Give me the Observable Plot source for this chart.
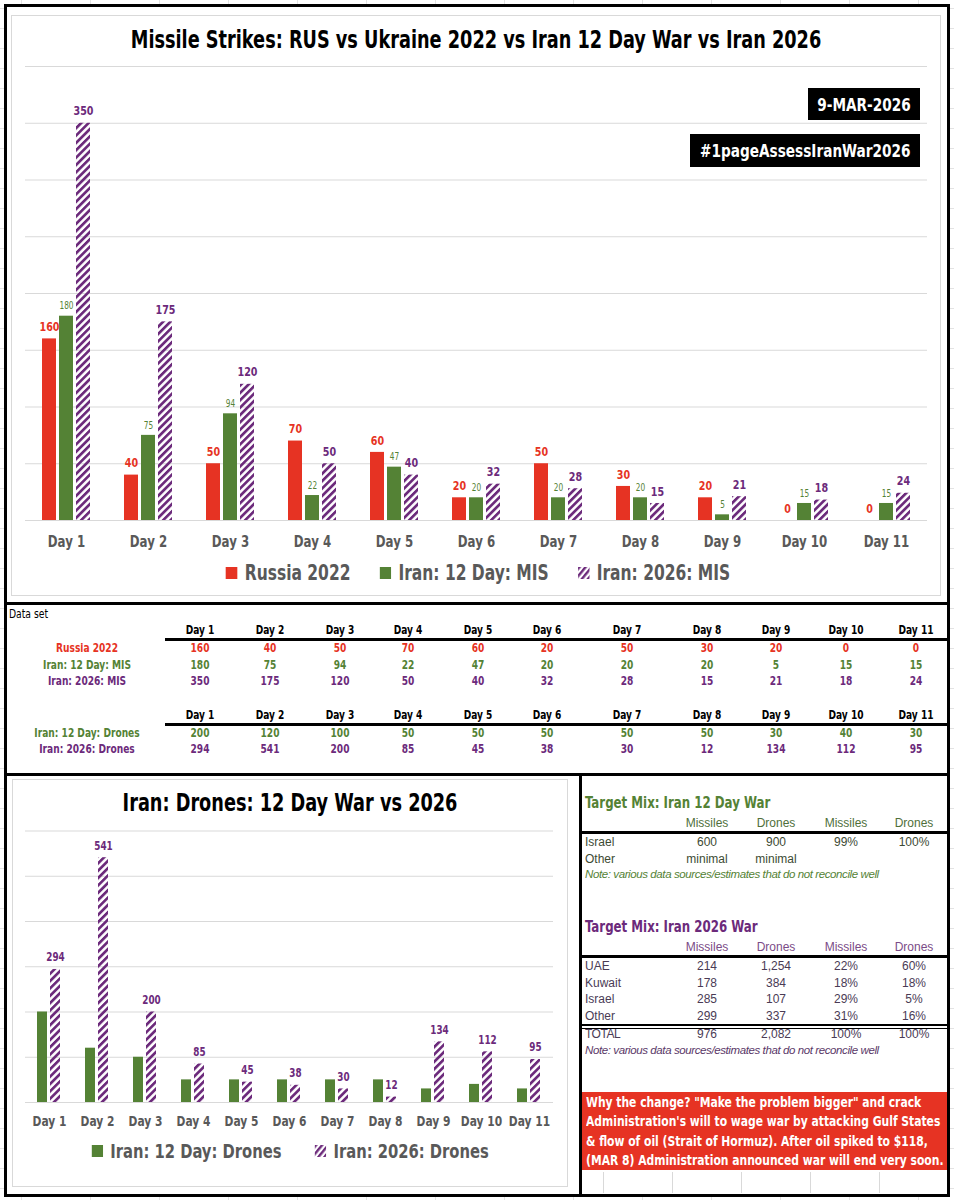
<!DOCTYPE html>
<html><head><meta charset="utf-8">
<script src="https://cdn.jsdelivr.net/npm/d3@7"></script>
<script src="https://cdn.jsdelivr.net/npm/@observablehq/plot@0.6"></script>
<style>
html,body{margin:0;padding:0;}
body{width:954px;height:1200px;position:relative;overflow:hidden;background-color:#fff;
  background-image:linear-gradient(#e3e3e3 1px,transparent 1px),linear-gradient(90deg,#e3e3e3 1px,transparent 1px);
  background-size:69px 20px;background-position:21px 8px;
  font-family:"Liberation Sans Narrow","Arial Narrow","DejaVu Sans Condensed","Liberation Sans",sans-serif;}
.abs{position:absolute;}
.panel{position:absolute;background:#fff;border:1px solid #d9d9d9;box-sizing:border-box;}
.legend{position:absolute;display:flex;justify-content:center;align-items:center;font-weight:bold;color:#595959;transform-origin:50% 50%;}
.legend .item{display:flex;align-items:center;}
.badge{position:absolute;background:#000;color:#fff;font-weight:bold;font-size:18.5px;display:flex;align-items:center;justify-content:center;}
.badge span{display:inline-block;white-space:nowrap;}
</style></head><body>
<svg width="0" height="0" style="position:absolute">
  <defs>
    <pattern id="hatch" patternUnits="userSpaceOnUse" width="5.2" height="5.2" patternTransform="rotate(45)">
      <rect x="0" y="0" width="2.7" height="5.2" fill="#6C2A7B"></rect>
    </pattern>
  </defs>
</svg>
<div class="abs" style="left:4px;top:4px;width:946px;height:1193px;background:#fff;"></div>
<div id="strip" class="abs" style="left:582px;top:1172px;width:365px;height:21px;
  background-image:linear-gradient(90deg,#d9d9d9 1px,transparent 1px);background-size:69px 100%;background-position:21px 0;"></div>
<div class="panel" style="left:11px;top:15px;width:930px;height:581px;"></div>
<div class="panel" style="left:12px;top:779px;width:556px;height:408px;"></div>
<div id="layer" class="abs" style="left:0;top:0;width:954px;height:1200px;"></div>
<!-- frame lines -->
<div class="abs" style="left:4px;top:4px;width:940px;height:1187px;border:3px solid #000;"></div>
<div class="abs" style="left:4px;top:602px;width:946px;height:3px;background:#000;"></div>
<div class="abs" style="left:4px;top:773px;width:946px;height:3px;background:#000;"></div>
<div class="abs" style="left:579px;top:773px;width:3px;height:424px;background:#000;"></div>
<script>
// ---------- data ----------
const days = ["Day 1","Day 2","Day 3","Day 4","Day 5","Day 6","Day 7","Day 8","Day 9","Day 10","Day 11"];
const misSeries = ["Russia 2022","Iran: 12 Day: MIS","Iran: 2026: MIS"];
const russia2022 = [160,40,50,70,60,20,50,30,20,0,0];
const iran12Mis = [180,75,94,22,47,20,20,20,5,15,15];
const iran2026Mis = [350,175,120,50,40,32,28,15,21,18,24];
const droneSeries = ["Iran: 12 Day: Drones","Iran: 2026: Drones"];
const iran12Drones = [200,120,100,50,50,50,50,50,30,40,30];
const iran2026Drones = [294,541,200,85,45,38,30,12,134,112,95];
const misTicks = [0,50,100,150,200,250,300,350,400];
const droneTicks = [0,100,200,300,400,500,600];
const topTitle = "Missile Strikes: RUS vs Ukraine 2022 vs Iran 12 Day War vs Iran 2026";
const droneTitle = "Iran: Drones: 12 Day War vs 2026";
const badgeDate = "9-MAR-2026";
const badgeTag = "#1pageAssessIranWar2026";
const mixCols = ["Missiles","Drones","Missiles","Drones"];
const mix12Title = "Target Mix: Iran 12 Day War";
const mix12Rows = [["Israel","600","900","99%","100%"],["Other","minimal","minimal","",""]];
const mix26Title = "Target Mix: Iran 2026 War";
const mix26Rows = [["UAE","214","1,254","22%","60%"],["Kuwait","178","384","18%","18%"],["Israel","285","107","29%","5%"],["Other","299","337","31%","16%"]];
const mix26Total = ["TOTAL","976","2,082","100%","100%"];
const noteText = "Note: various data sources/estimates that do not reconcile well";
const whyText = ["Why the change? \"Make the problem bigger\" and crack",
  "Administration's will to wage war by attacking Gulf States",
  "& flow of oil (Strait of Hormuz). After oil spiked to $118,",
  "(MAR 8) Administration announced war will end very soon."];

// ---------- styles ----------
const RED = "#E63323", GREEN = "#548235", PURPLE = "#6C2A7B", GRAY = "#595959";
const NARROW = '"Liberation Sans Narrow","Arial Narrow","DejaVu Sans Condensed","Liberation Sans",sans-serif';
const SANS = '"Liberation Sans",Arial,sans-serif';
const K = 0.82; // horizontal condensing of the narrow face
const layer = document.getElementById("layer");

function put(text, x, y, style, align, sx) {
  const k = sx == null ? 1 : sx;
  const el = document.createElement("div");
  el.textContent = text;
  el.style.position = "absolute";
  el.style.left = x + "px";
  el.style.top = y + "px";
  el.style.whiteSpace = "nowrap";
  el.style.lineHeight = "1";
  if (align === "left") {
    el.style.transformOrigin = "0 50%";
    el.style.transform = `translate(0,-50%) scaleX(${k})`;
  } else {
    el.style.transformOrigin = "50% 50%";
    el.style.transform = `translate(-50%,-50%) scaleX(${k})`;
  }
  Object.assign(el.style, style || {});
  layer.appendChild(el);
  return el;
}
// squeeze each SVG text horizontally about its own centre (svg must be in the DOM)
function condense(svg, k) {
  svg.querySelectorAll("text").forEach(t => {
    const b = t.getBBox();
    const cx = b.x + b.width / 2;
    const tr = t.getAttribute("transform") || "";
    t.setAttribute("transform", `${tr} translate(${cx},0) scale(${k},1) translate(${-cx},0)`);
  });
}
function rows(seriesNames, arrays) {
  return days.flatMap((d, i) => seriesNames.map((s, k) => ({day: d, series: s, value: arrays[k][i]})));
}
const ofS = (data, s) => data.filter(r => r.series === s);

// ---------- top chart ----------
put(topTitle, 476, 40, {fontFamily: NARROW, fontWeight: "bold", fontSize: "24px", color: "#000"}, "center", K);
const misRows = rows(misSeries, [russia2022, iran12Mis, iran2026Mis]);
const topPlot = Plot.plot({
  width: 932, height: 500,
  marginTop: 10, marginBottom: 36, marginLeft: 11, marginRight: 16,
  style: {background: "transparent", overflow: "visible"},
  fx: {domain: days, padding: 0, label: null},
  x: {domain: misSeries, axis: null, paddingInner: 0.1667, paddingOuter: 0.87},
  y: {domain: [0, 400], axis: null},
  marks: [
    Plot.ruleY(misTicks, {stroke: "#d9d9d9", strokeWidth: 1}),
    Plot.barY(ofS(misRows, misSeries[0]), {fx: "day", x: "series", y: "value", fill: RED}),
    Plot.barY(ofS(misRows, misSeries[1]), {fx: "day", x: "series", y: "value", fill: GREEN}),
    Plot.barY(ofS(misRows, misSeries[2]), {fx: "day", x: "series", y: "value", fill: "url(#hatch)"}),
    Plot.text(ofS(misRows, misSeries[0]), {fx: "day", x: "series", y: "value", text: d => String(d.value), dy: -12, fill: RED, fontWeight: "bold", fontSize: 13, fontFamily: NARROW}),
    Plot.text(ofS(misRows, misSeries[1]), {fx: "day", x: "series", y: "value", text: d => String(d.value), dy: -10, fill: GREEN, fontSize: 10, fontFamily: NARROW}),
    Plot.text(ofS(misRows, misSeries[2]), {fx: "day", x: "series", y: "value", text: d => String(d.value), dy: -12, fill: PURPLE, fontWeight: "bold", fontSize: 13, fontFamily: NARROW}),
    Plot.axisFx({anchor: "bottom", tickSize: 0, tickPadding: 15, fontSize: 16, fontWeight: "bold", fill: GRAY, fontFamily: NARROW, label: null})
  ]
});
topPlot.style.position = "absolute"; topPlot.style.left = "12px"; topPlot.style.top = "56px";
layer.appendChild(topPlot);
condense(topPlot, K);

function legend(names, fills, left, top, width, fontSize, gap) {
  const el = document.createElement("div");
  el.className = "legend";
  Object.assign(el.style, {left: left + "px", top: top + "px", width: width + "px", fontSize: fontSize + "px", gap: (gap / K) + "px", transform: `scaleX(${K})`});
  const sw = 12 / K;
  el.innerHTML = names.map((n, i) => `<div class="item"><svg width="${sw}" height="12" style="margin-right:${7 / K}px"><rect width="${sw}" height="12" fill="${fills[i]}"/></svg><span></span></div>`).join("");
  el.querySelectorAll("span").forEach((s, i) => s.textContent = names[i]);
  layer.appendChild(el);
}
legend(misSeries, [RED, GREEN, "url(#hatch)"], 12, 561, 932, 21, 29);

function badge(text, left, top, w, h) {
  const b = document.createElement("div"); b.className = "badge";
  Object.assign(b.style, {left: left + "px", top: top + "px", width: w + "px", height: h + "px"});
  const s = document.createElement("span"); s.textContent = text; s.style.transform = `scaleX(${K})`;
  b.appendChild(s); layer.appendChild(b);
}
badge(badgeDate, 808, 88, 112, 32);
badge(badgeTag, 690, 134, 230, 33);

// ---------- data set table ----------
const colX = [200, 270, 340, 408, 478, 547, 627, 707, 776, 846, 916];
put("Data set", 9, 614, {fontFamily: NARROW, fontSize: "12.5px", color: "#000"}, "left", K);
function dataBlock(headerY, lineY, rowYs, labels, arrays, colors) {
  const st = c => ({fontFamily: NARROW, fontWeight: "bold", fontSize: "12.3px", color: c});
  days.forEach((d, i) => put(d, colX[i], headerY, st("#000"), "center", K));
  const line = document.createElement("div");
  Object.assign(line.style, {position: "absolute", left: "165px", top: lineY + "px", width: "782px", height: "2.5px", background: "#000"});
  layer.appendChild(line);
  labels.forEach((lab, k) => {
    put(lab, 87, rowYs[k], st(colors[k]), "center", K);
    arrays[k].forEach((v, i) => put(String(v), colX[i], rowYs[k], st(colors[k]), "center", K));
  });
}
dataBlock(630, 638, [648, 665, 681], misSeries, [russia2022, iran12Mis, iran2026Mis], [RED, GREEN, PURPLE]);
dataBlock(715, 723, [733, 749], droneSeries, [iran12Drones, iran2026Drones], [GREEN, PURPLE]);

// ---------- drone chart ----------
put(droneTitle, 290, 803, {fontFamily: NARROW, fontWeight: "bold", fontSize: "24px", color: "#000"}, "center", K);
const droneRows = rows(droneSeries, [iran12Drones, iran2026Drones]);
const dronePlot = Plot.plot({
  width: 555, height: 310,
  marginTop: 8.5, marginBottom: 30, marginLeft: 9, marginRight: 11,
  style: {background: "transparent", overflow: "visible"},
  fx: {domain: days, padding: 0, label: null},
  x: {domain: droneSeries, axis: null, paddingInner: 0.214, paddingOuter: 0.843},
  y: {domain: [0, 600], axis: null},
  marks: [
    Plot.ruleY(droneTicks, {stroke: "#d9d9d9", strokeWidth: 1}),
    Plot.barY(ofS(droneRows, droneSeries[0]), {fx: "day", x: "series", y: "value", fill: GREEN}),
    Plot.barY(ofS(droneRows, droneSeries[1]), {fx: "day", x: "series", y: "value", fill: "url(#hatch)"}),
    Plot.text(ofS(droneRows, droneSeries[1]), {fx: "day", x: "series", y: "value", text: d => String(d.value), dy: -12, fill: PURPLE, fontWeight: "bold", fontSize: 12, fontFamily: NARROW}),
    Plot.axisFx({anchor: "bottom", tickSize: 0, tickPadding: 13, fontSize: 14.5, fontWeight: "bold", fill: GRAY, fontFamily: NARROW, label: null})
  ]
});
dronePlot.style.position = "absolute"; dronePlot.style.left = "12px"; dronePlot.style.top = "822px";
layer.appendChild(dronePlot);
condense(dronePlot, K);
legend(droneSeries, [GREEN, "url(#hatch)"], 12, 1139, 556, 20, 33);

// ---------- target mix tables ----------
const mixX = [707, 776, 846, 914];
function hline(y, h) {
  const l = document.createElement("div");
  Object.assign(l.style, {position: "absolute", left: "581px", top: y + "px", width: "366px", height: h + "px", background: "#000"});
  layer.appendChild(l);
}
function mixTable(title, titleColor, headColor, rowColor, noteColor, y0, rowsData, total) {
  put(title, 585, y0, {fontFamily: NARROW, fontWeight: "bold", fontSize: "16px", color: titleColor}, "left", K);
  mixCols.forEach((c, i) => put(c, mixX[i], y0 + 20, {fontFamily: SANS, fontSize: "12px", color: headColor}));
  hline(y0 + 28, 2.5);
  let y = y0 + 39;
  rowsData.forEach(r => {
    put(r[0], 585, y, {fontFamily: SANS, fontSize: "12px", color: rowColor}, "left");
    r.slice(1).forEach((v, i) => { if (v) put(v, mixX[i], y, {fontFamily: SANS, fontSize: "12px", color: rowColor}); });
    y += 16.6;
  });
  if (total) {
    hline(y - 8, 1.5); hline(y - 4.5, 1.5);
    y += 2;
    put(total[0], 585, y, {fontFamily: SANS, fontSize: "12px", color: rowColor, letterSpacing: "-0.5px"}, "left");
    total.slice(1).forEach((v, i) => put(v, mixX[i], y, {fontFamily: SANS, fontSize: "12px", color: rowColor}));
    y += 17;
  }
  put(noteText, 585, y, {fontFamily: SANS, fontStyle: "italic", fontSize: "11.5px", color: noteColor, letterSpacing: "-0.4px"}, "left");
}
mixTable(mix12Title, GREEN, "#4f6f3a", "#3d4a33", GREEN, 803, mix12Rows, null);
mixTable(mix26Title, PURPLE, "#7b4b87", "#4a3b55", "#5a3868", 927, mix26Rows, mix26Total);

// ---------- explanation box ----------
const box = document.createElement("div");
Object.assign(box.style, {position: "absolute", left: "582px", top: "1092px", width: "365px", height: "78px", background: RED, overflow: "hidden"});
const inner = document.createElement("div");
Object.assign(inner.style, {color: "#fff", fontFamily: NARROW, fontWeight: "bold", fontSize: "14.6px", lineHeight: "19.3px",
  marginLeft: "4px", whiteSpace: "nowrap", transformOrigin: "0 0", transform: `scaleX(${K})`});
whyText.forEach(t => { const d = document.createElement("div"); d.textContent = t; inner.appendChild(d); });
box.appendChild(inner);
layer.appendChild(box);
</script>
</body></html>
